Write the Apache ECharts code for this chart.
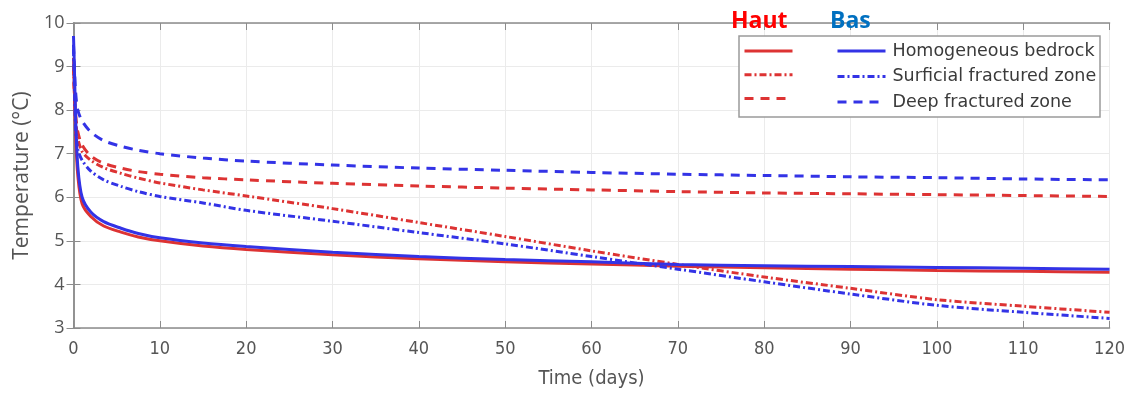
<!DOCTYPE html>
<html>
<head>
<meta charset="utf-8">
<title>Temperature vs time</title>
<script src="https://cdn.jsdelivr.net/npm/echarts@6/dist/echarts.min.js"></script>
<style>
  html, body { margin: 0; padding: 0; background: #fff; }
  #chart { width: 1128px; height: 394px; }
</style>
</head>
<body>
<div id="chart"></div>
<script>
// Sampling times (days), denser at the start where temperatures fall fast
const days = [0, 0.1, 0.25, 0.5, 1, 2, 3.5, 5.5, 7.5, 10, 15, 20, 30, 40, 50, 60, 70, 80, 90, 100, 110, 120];

// Zone names used in the legend
const zones = ['Homogeneous bedrock', 'Surficial fractured zone', 'Deep fractured zone'];

// Temperature (°C) – "Haut" (red)
const hautHomogeneous = [9.2, 8.5, 7.4, 6.5, 5.85, 5.56, 5.34, 5.2, 5.09, 5.0, 4.88, 4.8, 4.68, 4.59, 4.52, 4.47, 4.42, 4.38, 4.35, 4.32, 4.3, 4.28];
const hautSurficial  = [9.0, 8.4, 7.8, 7.35, 7.05, 6.85, 6.68, 6.55, 6.44, 6.33, 6.17, 6.03, 5.74, 5.42, 5.1, 4.77, 4.46, 4.17, 3.91, 3.65, 3.5, 3.36];
const hautDeep       = [9.0, 8.4, 7.9, 7.5, 7.2, 6.95, 6.78, 6.67, 6.59, 6.53, 6.45, 6.4, 6.32, 6.26, 6.21, 6.17, 6.13, 6.1, 6.08, 6.06, 6.04, 6.02];

// Temperature (°C) – "Bas" (blue)
const basHomogeneous = [9.7, 9.0, 7.8, 6.7, 6.0, 5.66, 5.44, 5.29, 5.17, 5.07, 4.95, 4.87, 4.74, 4.64, 4.57, 4.52, 4.46, 4.43, 4.41, 4.39, 4.37, 4.35];
const basSurficial   = [9.4, 8.6, 7.6, 7.1, 6.85, 6.6, 6.4, 6.25, 6.13, 6.02, 5.87, 5.7, 5.45, 5.19, 4.93, 4.64, 4.35, 4.06, 3.78, 3.52, 3.36, 3.22];
const basDeep        = [9.5, 9.0, 8.4, 8.0, 7.75, 7.5, 7.3, 7.17, 7.08, 7.0, 6.9, 6.83, 6.74, 6.67, 6.62, 6.57, 6.53, 6.5, 6.47, 6.45, 6.42, 6.4];

// Axis ticks
const xTicks = { min: 0, max: 120, step: 10 };
const yTicks = { min: 3, max: 10, step: 1 };

const RED = '#dd3333';
const BLUE = '#3333e6';
const dashTypes = ['solid', [7, 3, 2, 3], [9, 7]];

const pair = (vals) => days.map((d, i) => [d, vals[i]]);

function makeSeries(name, vals, color, dash) {
  return {
    name: name,
    type: 'line',
    data: pair(vals),
    symbol: 'none',
    smooth: 0.3,
    lineStyle: { color: color, width: 3, type: dash },
    itemStyle: { color: color },
    z: 3
  };
}

const hautSets = [hautHomogeneous, hautSurficial, hautDeep];
const basSets = [basHomogeneous, basSurficial, basDeep];
const hautNames = zones.map(z => 'Haut · ' + z);
const basNames = zones.map(z => 'Bas · ' + z);

const series = [];
zones.forEach((z, i) => series.push(makeSeries(hautNames[i], hautSets[i], RED, dashTypes[i])));
zones.forEach((z, i) => series.push(makeSeries(basNames[i], basSets[i], BLUE, dashTypes[i])));

const axisGrey = '#8c8c8c';
const labelGrey = '#555';
const narrow = "'Liberation Sans Narrow', 'DejaVu Sans Condensed', sans-serif";

// Legend rows: line sample only, no marker
const legendBase = {
  orient: 'vertical', top: 42, padding: 0,
  itemWidth: 48, itemHeight: 18, itemGap: 7.5,
  itemStyle: { color: 'transparent', borderWidth: 0, opacity: 0 },
  lineStyle: { width: 3 },
  selectedMode: false, z: 6
};

const chart = echarts.init(document.getElementById('chart'), null, { renderer: 'canvas' });
chart.setOption({
  animation: false,
  backgroundColor: '#fff',
  grid: { left: 73.5, right: 18, top: 23, bottom: 65 },
  xAxis: [{
    type: 'value', min: xTicks.min, max: xTicks.max, interval: xTicks.step,
    name: 'Time (days)', nameLocation: 'middle', nameGap: 41,
    nameTextStyle: { color: labelGrey, fontSize: 20, fontFamily: narrow },
    axisLine: { lineStyle: { color: axisGrey, width: 1.5 } },
    axisTick: { inside: true, length: 7, lineStyle: { color: axisGrey } },
    axisLabel: { color: labelGrey, fontSize: 18, fontFamily: narrow, margin: 12 },
    splitLine: { show: true, lineStyle: { color: '#ebebeb', width: 1 } }
  }, {
    type: 'value', position: 'top', min: xTicks.min, max: xTicks.max, interval: xTicks.step,
    axisLine: { show: true, lineStyle: { color: axisGrey, width: 1.5 } },
    axisTick: { inside: true, length: 7, lineStyle: { color: axisGrey } },
    axisLabel: { show: false }, splitLine: { show: false }
  }],
  yAxis: [{
    type: 'value', min: yTicks.min, max: yTicks.max, interval: yTicks.step,
    name: 'Temperature (°C)', nameLocation: 'middle', nameGap: 41,
    nameTextStyle: { color: labelGrey, fontSize: 21, fontFamily: "'Open Sans', sans-serif" },
    axisLine: { show: true, lineStyle: { color: axisGrey, width: 1.5 } },
    axisTick: { show: true, inside: true, length: 7, lineStyle: { color: axisGrey } },
    axisLabel: { color: labelGrey, fontSize: 18, fontFamily: "'Open Sans', sans-serif", margin: 9 },
    splitLine: { show: true, lineStyle: { color: '#ebebeb', width: 1 } }
  }, {
    type: 'value', position: 'right', min: yTicks.min, max: yTicks.max, interval: yTicks.step,
    axisLine: { show: true, lineStyle: { color: axisGrey, width: 1.5 } },
    axisTick: { show: true, inside: true, length: 7, lineStyle: { color: axisGrey } },
    axisLabel: { show: false }, splitLine: { show: false }
  }],
  legend: [Object.assign({}, legendBase, {
    data: hautNames, left: 743,
    formatter: () => '',
    textStyle: { fontSize: 17 }
  }), Object.assign({}, legendBase, {
    data: basNames, left: 836,
    formatter: (name) => name.split(' · ')[1],
    textStyle: { fontSize: 17.5, color: '#3a3a3a', fontFamily: "'DejaVu Sans', sans-serif", padding: [0, 0, 0, 2] }
  })],
  graphic: [{
    type: 'rect', z: 5,
    shape: { x: 739, y: 36, width: 361, height: 81 },
    style: { fill: '#fff', stroke: '#9a9a9a', lineWidth: 1.5 }
  }, {
    type: 'text', z: 7, left: 731, top: 10,
    style: { text: 'Haut', fill: '#ff0000', font: "bold 23px 'Open Sans', sans-serif" }
  }, {
    type: 'text', z: 7, left: 830, top: 10,
    style: { text: 'Bas', fill: '#0070c0', font: "bold 23px 'Open Sans', sans-serif" }
  }],
  series: series
});
</script>
</body>
</html>
